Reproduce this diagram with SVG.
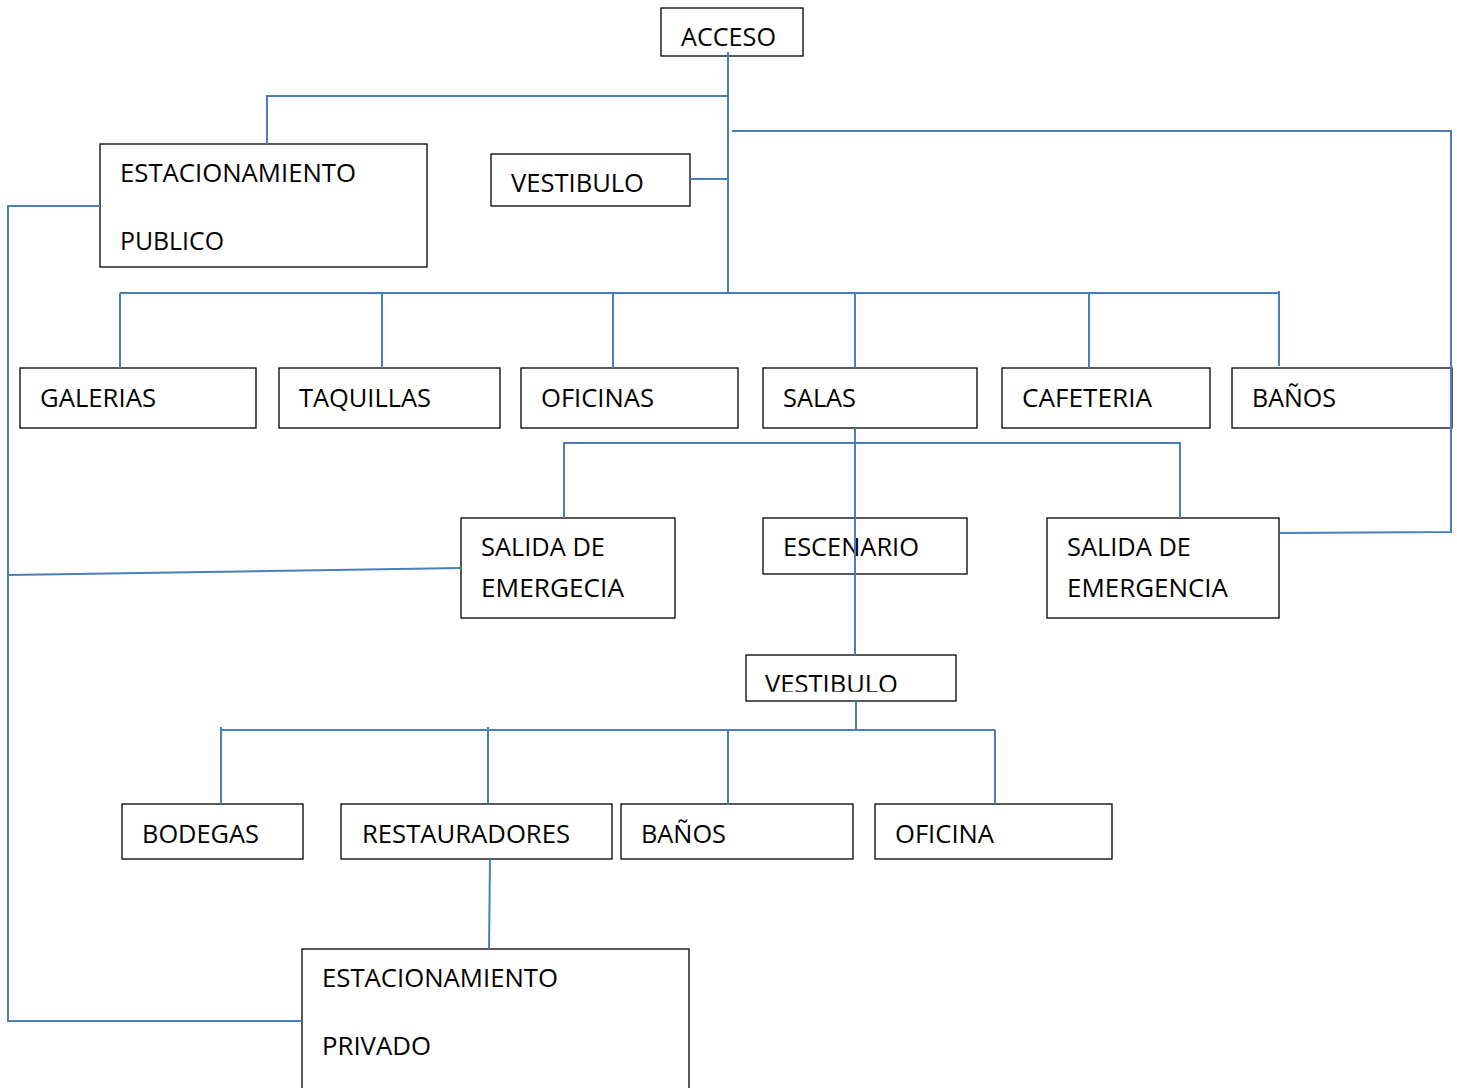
<svg xmlns="http://www.w3.org/2000/svg" width="1457" height="1088" viewBox="0 0 1457 1088">
<style>
.box{fill:#fff;stroke:#000;stroke-width:1.3}
.t{font-family:"Open Sans","Noto Sans",sans-serif;font-size:25px;fill:#000}
.c{stroke:#4a7ebb;stroke-width:2;fill:none}
</style>
<defs>
<clipPath id="clipV"><rect x="746" y="655" width="210" height="36.8"/></clipPath>
</defs>
<rect width="1457" height="1088" fill="#fff"/>
<g id="acceso"><rect class="box" x="661" y="8" width="142" height="48"/><text class="t" x="681" y="46" textLength="95" lengthAdjust="spacingAndGlyphs">ACCESO</text></g>
<g id="est-publico"><rect class="box" x="100" y="144" width="327" height="123"/><text class="t" x="120" y="182" textLength="236" lengthAdjust="spacingAndGlyphs">ESTACIONAMIENTO</text><text class="t" x="120" y="250" textLength="104" lengthAdjust="spacingAndGlyphs">PUBLICO</text></g>
<g id="vestibulo1"><rect class="box" x="491" y="154" width="199" height="52"/><text class="t" x="511" y="192" textLength="133" lengthAdjust="spacingAndGlyphs">VESTIBULO</text></g>
<g id="galerias"><rect class="box" x="20" y="368" width="236" height="60"/><text class="t" x="40" y="407" textLength="116" lengthAdjust="spacingAndGlyphs">GALERIAS</text></g>
<g id="taquillas"><rect class="box" x="279" y="368" width="221" height="60"/><text class="t" x="299" y="407" textLength="132" lengthAdjust="spacingAndGlyphs">TAQUILLAS</text></g>
<g id="oficinas"><rect class="box" x="521" y="368" width="217" height="60"/><text class="t" x="541" y="407" textLength="113" lengthAdjust="spacingAndGlyphs">OFICINAS</text></g>
<g id="salas"><rect class="box" x="763" y="368" width="214" height="60"/><text class="t" x="783" y="407" textLength="73" lengthAdjust="spacingAndGlyphs">SALAS</text></g>
<g id="cafeteria"><rect class="box" x="1002" y="368" width="208" height="60"/><text class="t" x="1022" y="407" textLength="130" lengthAdjust="spacingAndGlyphs">CAFETERIA</text></g>
<g id="banos1"><rect class="box" x="1232" y="368" width="220" height="60"/><text class="t" x="1252" y="407" textLength="84" lengthAdjust="spacingAndGlyphs">BAÑOS</text></g>
<g id="salida1"><rect class="box" x="461" y="518" width="214" height="100"/><text class="t" x="481" y="556" textLength="124" lengthAdjust="spacingAndGlyphs">SALIDA DE</text><text class="t" x="481" y="597" textLength="143" lengthAdjust="spacingAndGlyphs">EMERGECIA</text></g>
<g id="escenario"><rect class="box" x="763" y="518" width="204" height="56"/><text class="t" x="783" y="556" textLength="136" lengthAdjust="spacingAndGlyphs">ESCENARIO</text></g>
<g id="salida2"><rect class="box" x="1047" y="518" width="232" height="100"/><text class="t" x="1067" y="556" textLength="124" lengthAdjust="spacingAndGlyphs">SALIDA DE</text><text class="t" x="1067" y="597" textLength="161" lengthAdjust="spacingAndGlyphs">EMERGENCIA</text></g>
<g id="vestibulo2"><rect class="box" x="746" y="655" width="210" height="46"/><text class="t" x="765" y="693" textLength="133" lengthAdjust="spacingAndGlyphs" clip-path="url(#clipV)">VESTIBULO</text></g>
<g id="bodegas"><rect class="box" x="122" y="804" width="181" height="55"/><text class="t" x="142" y="843" textLength="117" lengthAdjust="spacingAndGlyphs">BODEGAS</text></g>
<g id="restauradores"><rect class="box" x="341" y="804" width="271" height="55"/><text class="t" x="362" y="843" textLength="208" lengthAdjust="spacingAndGlyphs">RESTAURADORES</text></g>
<g id="banos2"><rect class="box" x="621" y="804" width="232" height="55"/><text class="t" x="641" y="843" textLength="85" lengthAdjust="spacingAndGlyphs">BAÑOS</text></g>
<g id="oficina"><rect class="box" x="875" y="804" width="237" height="55"/><text class="t" x="895" y="843" textLength="99" lengthAdjust="spacingAndGlyphs">OFICINA</text></g>
<g id="est-privado"><rect class="box" x="302" y="949" width="387" height="145"/><text class="t" x="322" y="987" textLength="236" lengthAdjust="spacingAndGlyphs">ESTACIONAMIENTO</text><text class="t" x="322" y="1055" textLength="109" lengthAdjust="spacingAndGlyphs">PRIVADO</text></g>
<g id="connectors">
<path class="c" d="M728 52V293"/>
<path class="c" d="M267 144V96H728"/>
<path class="c" d="M732 131H1451V532L1280 533"/>
<path class="c" d="M690 179H728"/>
<path class="c" d="M120 293H1279"/>
<path class="c" d="M120 293V368M382 293V368M613 293V368M855 293V368M1089 293V368M1279 291V366"/>
<path class="c" d="M100 206H8V1021H302"/>
<path class="c" d="M8 575L461 568"/>
<path class="c" d="M855 428V655"/>
<path class="c" d="M564 518V443H1180V518"/>
<path class="c" d="M856 701V730"/>
<path class="c" d="M221 730H995"/>
<path class="c" d="M221 727V804M488 727V803M728 730V804M995 730V804"/>
<path class="c" d="M490 859L489 949"/>
</g>
</svg>
